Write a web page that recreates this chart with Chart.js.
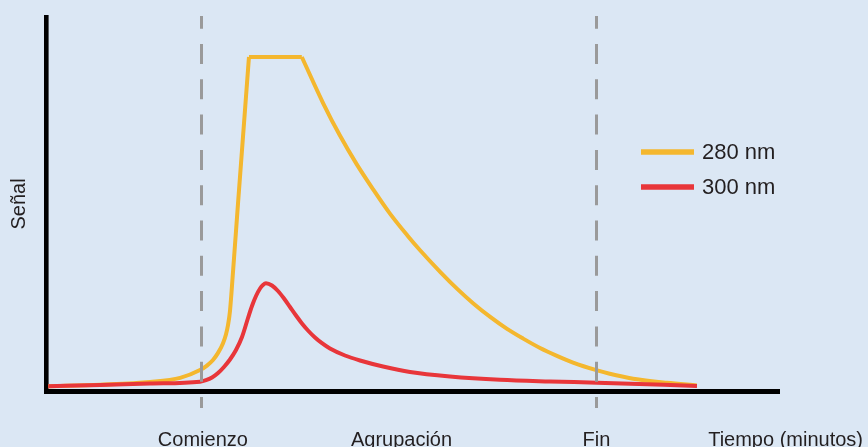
<!DOCTYPE html>
<html>
<head>
<meta charset="utf-8">
<script src="https://cdn.jsdelivr.net/npm/chart.js@4/dist/chart.umd.min.js"></script>
<style>
html,body{margin:0;padding:0;background:#dbe7f4;}
canvas{display:block;background:#dbe7f4;}
</style>
</head>
<body>
<canvas id="c" width="868" height="447"></canvas>
<script>
// ---- data (time units 0-100, signal units 0-100) ----
const seriesNames = ['280 nm', '300 nm'];
const seriesColors = ['#f4b72e', '#e8363a'];

// 280 nm: rise, saturated plateau, decay
const s280RiseX = [0.3, 7.4, 14.2, 18.3, 21.01, 21.96, 22.78, 23.47, 24.15, 24.56, 24.83, 25.10, 25.51, 26.19, 27.69];
const s280RiseY = [1.3, 1.7, 2.4, 3.5, 5.6, 6.8, 8.3, 10.2, 12.8, 15.2, 17.6, 21.4, 31.8, 50.0, 89.3];
const s280PlateauX = [27.69, 34.9];
const s280PlateauY = [89.3, 89.3];
const s280DecayX = [34.9, 37.8, 40.1, 42.4, 44.6, 46.9, 49.3, 51.0, 53.8, 56.1, 58.3, 60.6, 62.9, 65.1, 67.4, 69.7, 71.9, 75.2, 76.9, 80.1, 84.7, 88.8];
const s280DecayY = [89.3, 77.0, 68.3, 60.6, 54.0, 47.5, 41.6, 37.7, 31.8, 27.3, 23.4, 19.8, 16.6, 14.0, 11.5, 9.4, 7.6, 5.5, 4.6, 3.3, 2.2, 1.5];

// 300 nm
const s300X = [0.3, 7.4, 14.2, 21.01, 21.83, 22.65, 23.47, 24.28, 25.10, 25.92, 26.74, 27.56, 28.10, 28.65, 29.20, 29.60, 30.01, 30.83, 31.65, 32.47, 33.29, 34.11, 34.92, 35.74, 36.70, 37.65, 38.74, 40.79, 42.84, 45.98, 49.66, 55.12, 61.94, 68.76, 75.17, 88.81];
const s300Y = [1.3, 1.6, 2.0, 2.49, 2.89, 3.61, 4.81, 6.42, 8.42, 10.96, 14.44, 19.52, 22.73, 25.40, 27.41, 28.34, 28.80, 28.21, 26.74, 24.73, 22.46, 20.19, 18.05, 16.18, 14.30, 12.78, 11.36, 9.49, 8.16, 6.55, 5.08, 3.88, 2.99, 2.54, 2.22, 1.34];

// vertical markers and axis labels
const markerX = [21.1, 75.1];
const xLabels = ['Comienzo', 'Agrupación', 'Fin', 'Tiempo (minutos)'];
const xLabelPos = [21.4, 48.5, 75.1, 100.9];
const yTitle = 'Señal';

const pts = (xs, ys) => xs.map((x, i) => ({x: x, y: ys[i]}));

const FONT = "'Liberation Sans', Arial, sans-serif";
const TEXT = '#231f20';

const overlay = {
  id: 'overlay',
  afterDatasetsDraw(chart) {
    const ctx = chart.ctx, xs = chart.scales.x;
    ctx.save();
    ctx.strokeStyle = '#9a9a9a';
    ctx.lineWidth = 3;
    ctx.setLineDash([20, 15.3]);
    ctx.lineDashOffset = 7.3;
    markerX.forEach(v => {
      const px = Math.round(xs.getPixelForValue(v)) + 0.5;
      ctx.beginPath();
      ctx.moveTo(px, 16);
      ctx.lineTo(px, 408);
      ctx.stroke();
    });
    ctx.restore();
  },
  afterDraw(chart) {
    const ctx = chart.ctx, xs = chart.scales.x;
    ctx.save();
    ctx.fillStyle = TEXT;
    ctx.font = '20px ' + FONT;
    ctx.textAlign = 'center';
    ctx.textBaseline = 'alphabetic';
    xLabels.forEach((t, i) => {
      ctx.fillText(t, xs.getPixelForValue(xLabelPos[i]), 446);
    });
    // y title
    ctx.save();
    ctx.translate(19, 204);
    ctx.rotate(-Math.PI / 2);
    ctx.textBaseline = 'middle';
    ctx.fillText(yTitle, 0, 0);
    ctx.restore();
    // legend
    const ly = [152, 187];
    ctx.font = '22px ' + FONT;
    ctx.textAlign = 'left';
    ctx.textBaseline = 'middle';
    seriesNames.forEach((n, i) => {
      ctx.strokeStyle = seriesColors[i];
      ctx.lineWidth = 5.5;
      ctx.beginPath();
      ctx.moveTo(641, ly[i]);
      ctx.lineTo(694, ly[i]);
      ctx.stroke();
      ctx.fillStyle = TEXT;
      ctx.fillText(n, 702, ly[i] + 1);
    });
    ctx.restore();
  }
};

const lineBase = {
  pointRadius: 0,
  borderWidth: 4,
  fill: false,
  borderCapStyle: 'butt',
  borderJoinStyle: 'miter'
};

new Chart(document.getElementById('c'), {
  type: 'line',
  data: {
    datasets: [
      Object.assign({}, lineBase, {label: seriesNames[1], data: pts(s300X, s300Y), borderColor: seriesColors[1], cubicInterpolationMode: 'monotone', order: 0}),
      Object.assign({}, lineBase, {label: seriesNames[0], data: pts(s280RiseX, s280RiseY), borderColor: seriesColors[0], cubicInterpolationMode: 'monotone', order: 1}),
      Object.assign({}, lineBase, {label: seriesNames[0], data: pts(s280PlateauX, s280PlateauY), borderColor: seriesColors[0], tension: 0, order: 1}),
      Object.assign({}, lineBase, {label: seriesNames[0], data: pts(s280DecayX, s280DecayY), borderColor: seriesColors[0], cubicInterpolationMode: 'monotone', order: 1})
    ]
  },
  options: {
    responsive: false,
    animation: false,
    devicePixelRatio: 1,
    layout: {padding: {left: 46, right: 89, top: 17, bottom: 56}},
    plugins: {legend: {display: false}, tooltip: {enabled: false}},
    scales: {
      x: {
        type: 'linear', min: 0, max: 100,
        grid: {display: false, drawTicks: false},
        ticks: {display: false},
        border: {display: true, color: '#000', width: 5},
        afterFit: s => { s.height = 0; }
      },
      y: {
        type: 'linear', min: 0, max: 100,
        grid: {display: false, drawTicks: false},
        ticks: {display: false},
        border: {display: true, color: '#000', width: 4.6},
        afterFit: s => { s.width = 0; }
      }
    }
  },
  plugins: [overlay]
});
</script>
</body>
</html>
